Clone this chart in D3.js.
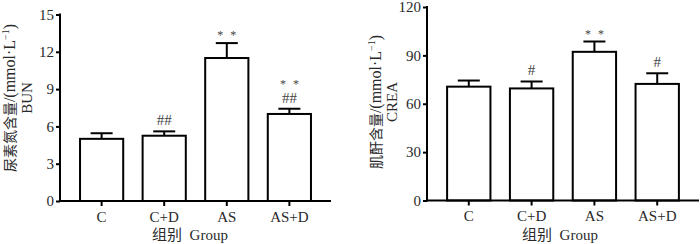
<!DOCTYPE html>
<html>
<head>
<meta charset="utf-8">
<script src="https://cdn.jsdelivr.net/npm/d3@7"></script>
<style>
  body { margin: 0; background: #fff; }
  svg { display: block; }
  text, tspan { font-family: "Liberation Serif", serif; }
  .cn { font-family: "Noto Sans CJK SC", sans-serif; }
</style>
</head>
<body>
<svg id="chart" width="700" height="244"></svg>
<script>
const groups = ["C", "C+D", "AS", "AS+D"];

const bunMean = [5.0, 5.25, 11.5, 7.0];
const bunSD = [0.45, 0.35, 1.2, 0.42];
const bunMarks = [[], ["##"], ["**"], ["##", "**"]];
const bunTicks = [0, 3, 6, 9, 12, 15];

const creaMean = [70.6, 69.5, 92.2, 72.3];
const creaSD = [3.8, 4.3, 6.4, 6.6];
const creaMarks = [[], ["#"], ["**"], ["#"]];
const creaTicks = [0, 30, 60, 90, 120];

const svg = d3.select("#chart");
const txt = "#2a2a2a";

function drawPanel(opt) {
    const g = svg.append("g");
    const x = d3.scaleBand().domain(groups).range([opt.x0, opt.x1]).paddingInner(0.31).paddingOuter(0.32);
    const y = d3.scaleLinear().domain([0, opt.max]).range([opt.y0, opt.y1]);

    // bars
    g.selectAll("rect.bar").data(groups).join("rect").attr("class", "bar")
        .attr("x", d => x(d)).attr("width", x.bandwidth())
        .attr("y", (d, i) => y(opt.mean[i])).attr("height", (d, i) => y(0) - y(opt.mean[i]))
        .attr("fill", "#fff").attr("stroke", "#000").attr("stroke-width", 2);

    // error bars (upper only)
    const eb = g.selectAll("g.err").data(groups).join("g").attr("class", "err");
    eb.append("line")
        .attr("x1", d => x(d) + x.bandwidth() / 2).attr("x2", d => x(d) + x.bandwidth() / 2)
        .attr("y1", (d, i) => y(opt.mean[i])).attr("y2", (d, i) => y(opt.mean[i] + opt.sd[i]))
        .attr("stroke", "#000").attr("stroke-width", 2);
    eb.append("line")
        .attr("x1", d => x(d) + x.bandwidth() / 2 - 11).attr("x2", d => x(d) + x.bandwidth() / 2 + 11)
        .attr("y1", (d, i) => y(opt.mean[i] + opt.sd[i])).attr("y2", (d, i) => y(opt.mean[i] + opt.sd[i]))
        .attr("stroke", "#000").attr("stroke-width", 2);

    // significance marks, stacked upward from the error bar top
    groups.forEach((d, i) => {
        let base = y(opt.mean[i] + opt.sd[i]) - 6;
        opt.marks[i].forEach((m, k) => {
            const star = m === "**";
            g.append("text")
                .attr("x", x(d) + x.bandwidth() / 2 + (star ? 1 : 0)).attr("y", star && k === 0 ? base + 2 : base)
                .attr("text-anchor", "middle")
                .style("font-size", star ? "12px" : "15px")
                .style("letter-spacing", star ? "2px" : "0px")
                .style("fill", "#444")
                .text(star ? "* *" : m);
            base -= 15;
        });
    });

    // axes
    const ya = g.append("g").attr("transform", `translate(${opt.x0},0)`)
        .call(d3.axisLeft(y).tickValues(opt.ticks).tickSize(4).tickPadding(2));
    ya.attr("font-family", null);
    ya.select(".domain").attr("stroke-width", 2).attr("d", `M0,${opt.y0 + 1}V${opt.y1 - 1}`);
    ya.selectAll(".tick line").attr("stroke-width", 2);
    ya.selectAll(".tick text").style("font-size", "15px").attr("fill", txt);

    const xa = g.append("g").attr("transform", `translate(0,${opt.y0})`)
        .call(d3.axisBottom(x).tickSize(5).tickPadding(5));
    xa.attr("font-family", null);
    xa.select(".domain").attr("stroke-width", 2).attr("d", `M${opt.x0},0H${opt.x1}`);
    xa.selectAll(".tick line").attr("stroke-width", 2);
    xa.selectAll(".tick text").style("font-size", "15px").attr("fill", txt);

    // x title
    const xt = g.append("text").attr("x", opt.titleX).attr("y", 240).attr("text-anchor", "middle")
        .style("font-size", "15px").style("fill", txt);
    xt.append("tspan").attr("class", "cn").text("组别");
    xt.append("tspan").text("\u00a0\u00a0Group");

    // y title, two lines
    const yt = g.append("text").attr("transform", `translate(${opt.labX},${opt.labY}) rotate(-90)`)
        .attr("text-anchor", "middle").style("font-size", "16px").style("fill", txt);
    yt.append("tspan").attr("class", "cn").style("font-size", "14px").text(opt.cn);
    yt.append("tspan").text("/(mmol·L");
    yt.append("tspan").attr("dy", -6).style("font-size", "10px").text("−1");
    yt.append("tspan").attr("dy", 6).text(")");
    g.append("text").attr("transform", `translate(${opt.labX + opt.gap},${opt.labY}) rotate(-90)`)
        .attr("text-anchor", "middle").style("font-size", "15px").style("fill", txt)
        .text(opt.en);
}

drawPanel({ x0: 60, x1: 331, y0: 201, y1: 14.5, max: 15, mean: bunMean, sd: bunSD, marks: bunMarks,
    ticks: bunTicks, titleX: 190, labX: 14.5, gap: 17.5, labY: 98, cn: "尿素氮含量", en: "BUN" });
drawPanel({ x0: 427, x1: 699, y0: 200.5, y1: 7, max: 120, mean: creaMean, sd: creaSD, marks: creaMarks,
    ticks: creaTicks, titleX: 560, labX: 381, gap: 16, labY: 102, cn: "肌酐含量", en: "CREA" });
</script>
</body>
</html>
